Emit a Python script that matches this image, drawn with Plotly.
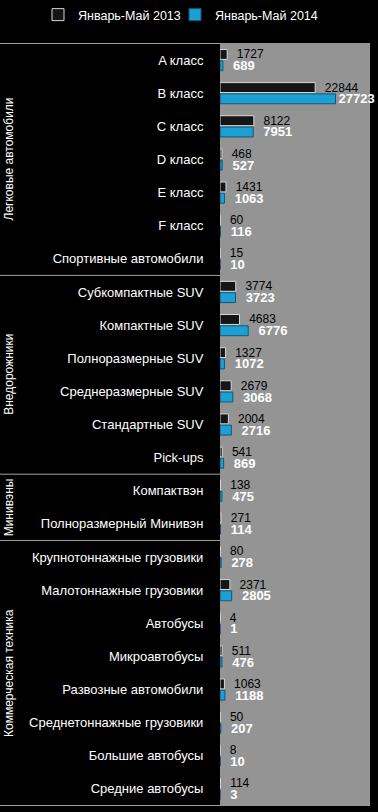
import plotly.graph_objects as go

categories = ["A класс", "B класс", "C класс", "D класс", "E класс", "F класс",
              "Спортивные автомобили", "Субкомпактные SUV", "Компактные SUV",
              "Полноразмерные SUV", "Среднеразмерные SUV", "Стандартные SUV",
              "Pick-ups", "Компактвэн", "Полноразмерный Минивэн",
              "Крупнотоннажные грузовики", "Малотоннажные грузовики", "Автобусы",
              "Микроавтобусы", "Развозные автомобили", "Среднетоннажные грузовики",
              "Большие автобусы", "Средние автобусы"]
v2013 = [1727, 22844, 8122, 468, 1431, 60, 15, 3774, 4683, 1327, 2679, 2004, 541,
         138, 271, 80, 2371, 4, 511, 1063, 50, 8, 114]
v2014 = [689, 27723, 7951, 527, 1063, 116, 10, 3723, 6776, 1072, 3068, 2716, 869,
         475, 114, 278, 2805, 1, 476, 1188, 207, 10, 3]
series_names = ["Январь-Май 2013", "Январь-Май 2014"]
groups = ["Легковые автомобили", "Внедорожники", "Минивэны", "Коммерческая техника"]
group_sizes = [7, 6, 2, 8]

W, H = 378, 812
ML, MR, MT, MB = 220, 8, 43, 6
PW = W - ML - MR
XMAX = 36000

pad = "\u00a0\u00a0"
tt2013 = [("%{text}" if v > 25000 else pad + "%{text}") for v in v2013]
tt2014 = [("<b>%{text}</b>" if v > 25000 else pad + "<b>%{text}</b>") for v in v2014]

fig = go.Figure()
fig.add_trace(go.Bar(
    y=categories, x=v2013, orientation="h", name=series_names[0],
    marker=dict(color="#151515", line=dict(color="#d8d8d8", width=1)),
    text=v2013, texttemplate=tt2013, textposition="outside",
    textfont=dict(color="#000000", size=12, family="Liberation Sans"),
    constraintext="none", cliponaxis=False, legend="legend",
))
fig.add_trace(go.Bar(
    y=categories, x=v2014, orientation="h", name=series_names[1],
    marker=dict(color="#1e9fd4", line=dict(color="#0b5a7a", width=1)),
    text=v2014, texttemplate=tt2014, textposition="outside",
    textfont=dict(color="#ffffff", size=13, family="Liberation Sans"),
    constraintext="none", cliponaxis=False, legend="legend2",
))

shapes = []
annotations = []
boundaries = [-0.5]
acc = 0
for s in group_sizes:
    acc += s
    boundaries.append(acc - 0.5)
for b in boundaries:
    shapes.append(dict(type="line", xref="paper", yref="y",
                       x0=-ML / PW, x1=0, y0=b, y1=b,
                       line=dict(color="#a0a0a0", width=1)))
for i, g in enumerate(groups):
    mid = (boundaries[i] + boundaries[i + 1]) / 2
    annotations.append(dict(text=g, xref="paper", yref="y",
                            x=(9 - ML) / PW, y=mid, textangle=-90,
                            showarrow=False, xanchor="center", yanchor="middle",
                            font=dict(color="#ffffff", size=12, family="Liberation Sans")))

legend_common = dict(orientation="h", xref="paper", yref="paper", xanchor="left",
                     y=1 + (MT - 15) / (H - MT - MB), yanchor="middle",
                     font=dict(color="#ffffff", size=12.5, family="Liberation Sans"),
                     bgcolor="rgba(0,0,0,0)", itemwidth=30)

fig.update_layout(
    width=W, height=H,
    margin=dict(l=ML, r=MR, t=MT, b=MB, autoexpand=False),
    paper_bgcolor="#000000", plot_bgcolor="#949494",
    barmode="group", bargap=0.32, bargroupgap=0.12,
    font=dict(family="Liberation Sans", color="#ffffff"),
    showlegend=True,
    legend=dict(x=(38 - ML) / PW, **legend_common),
    legend2=dict(x=(175 - ML) / PW, **legend_common),
    xaxis=dict(range=[0, XMAX], visible=False, fixedrange=True),
    yaxis=dict(autorange="reversed", showgrid=False, zeroline=False,
               ticks="outside", ticklen=13, tickcolor="rgba(0,0,0,0)",
               tickfont=dict(color="#ffffff", size=13, family="Liberation Sans"),
               automargin=False, showline=False),
    shapes=shapes, annotations=annotations,
)

fig.write_html("out.html", config={"displayModeBar": False},
               post_script="document.body.style.margin='0';document.body.style.padding='0';")
